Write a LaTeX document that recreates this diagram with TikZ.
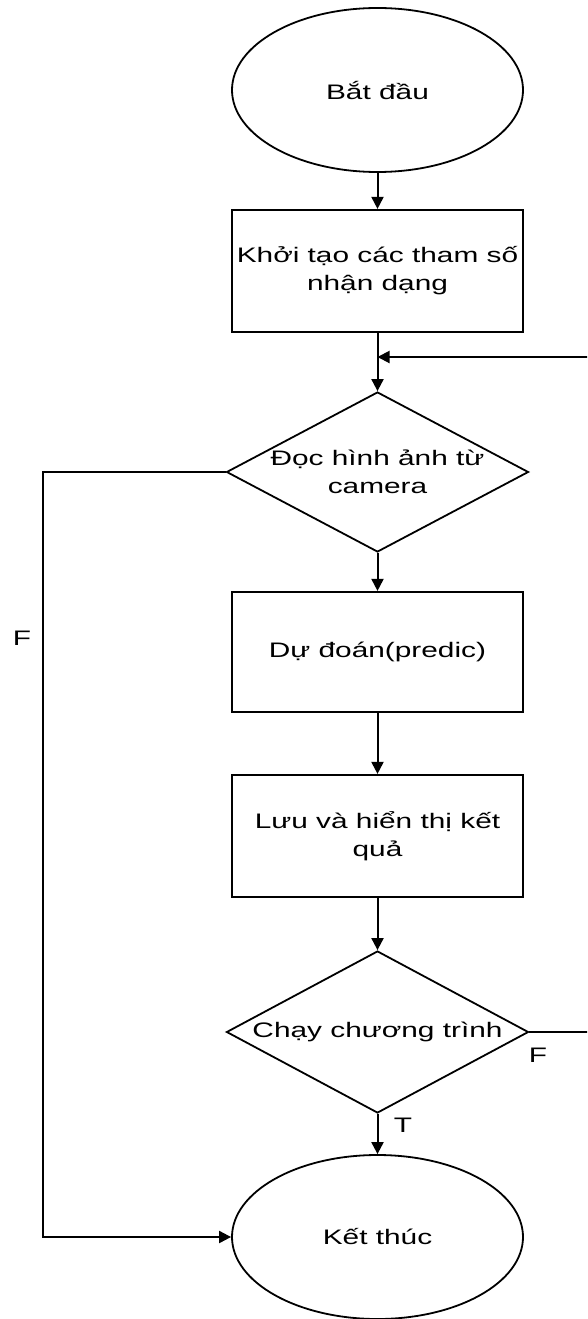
\documentclass[tikz,border=0pt]{standalone}
\usepackage{fontspec}
\setmainfont{Liberation Sans}[FakeStretch=1.42]
\usetikzlibrary{shapes.geometric,arrows.meta}

\begin{document}
\begin{tikzpicture}[x=1pt,y=-1pt,
  every node/.style={font=\fontsize{21}{28}\selectfont, inner sep=0pt, align=center},
  terminal/.style={draw, ellipse, line width=1.8pt, fill=white, minimum width=291pt, minimum height=164pt},
  process/.style={draw, rectangle, line width=2.2pt, fill=white, minimum width=291pt, minimum height=122pt},
  decision/.style={draw, diamond, aspect=1.89, line width=1.8pt, fill=white, minimum width=302pt, minimum height=160pt},
  flow/.style={line width=2pt, -{Triangle[length=12pt,width=12pt]}},
  branch/.style={font=\fontsize{21}{24}\selectfont}]
  \useasboundingbox (0,0) rectangle (587,1319);
  \clip (0,0) rectangle (587,1319);
  \fill[white] (0,0) rectangle (587,1319);

  % main column
  \node[terminal] (start) at (377.5,90) {Bắt đầu};
  \node[process]  (init)  at (377.5,271) {Khởi tạo các tham số\\nhận dạng};
  \node[decision] (read)  at (377.5,472) {Đọc hình ảnh từ\\camera};
  \node[process, minimum height=120pt] (pred) at (377.5,652) {Dự đoán(predic)};
  \node[process]  (save)  at (377.5,836) {Lưu và hiển thị kết\\quả};
  \node[decision, minimum height=162pt] (run) at (377.5,1032) {Chạy chương trình};
  \node[terminal] (stop)  at (377.5,1237) {Kết thúc};

  % rails for the side branches
  \coordinate (merge) at (377.5,357);
  \coordinate (leftrail) at (43,800);
  \coordinate (rightrail) at (610,700);

  \draw[flow] (start) -- (init);
  \draw[line width=2pt] (init) -- (merge);
  \draw[flow] (merge) -- (read);
  \draw[flow] (read) -- (pred);
  \draw[flow] (pred) -- (save);
  \draw[flow] (save) -- (run);
  \draw[flow] (run) -- (stop);

  \draw[flow] (read.west) -| (leftrail) |- (stop.west);
  \draw[flow] (run.east) -| (rightrail) |- (merge);

  % branch labels
  \node[branch] (fleft)  at (22,638) {F};
  \node[branch] (fright) at (538,1055) {F};
  \node[branch] (ttrue)  at (403,1125) {T};
\end{tikzpicture}
\end{document}
